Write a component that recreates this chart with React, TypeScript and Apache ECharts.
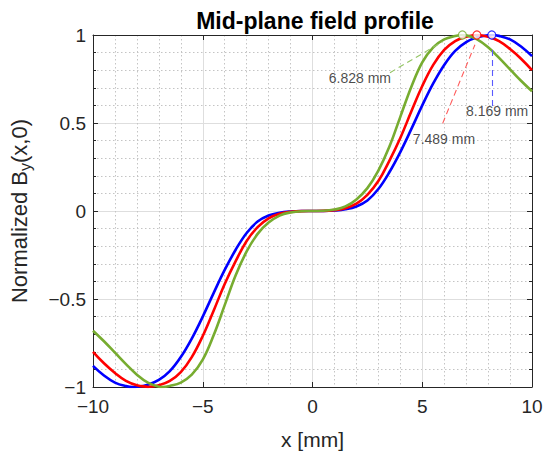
import React, { useEffect, useRef } from "react";
import * as echarts from "echarts";

const xMm = [
  -10, -9.5, -9, -8.5, -8, -7.5, -7, -6.5, -6, -5.5, -5, -4.5, -4, -3.5, -3, -2.5, -2, -1.5, -1, -0.5,
  0, 0.5, 1, 1.5, 2, 2.5, 3, 3.5, 4, 4.5, 5, 5.5, 6, 6.5, 7, 7.5, 8, 8.5, 9, 9.5, 10,
];

const blueValues = [
  -0.88, -0.935, -0.975, -0.995, -0.999, -0.987, -0.96, -0.91, -0.83, -0.725, -0.6, -0.465, -0.335, -0.22, -0.125, -0.06, -0.026, -0.01, -0.003, -0.0003,
  0, 0.0003, 0.003, 0.01, 0.026, 0.06, 0.125, 0.22, 0.335, 0.465, 0.6, 0.725, 0.83, 0.91, 0.96, 0.987, 0.999, 0.995, 0.975, 0.935, 0.88,
];

const redValues = [
  -0.8, -0.865, -0.92, -0.965, -0.99, -0.9995, -0.99, -0.965, -0.915, -0.83, -0.71, -0.565, -0.415, -0.285, -0.17, -0.092, -0.042, -0.016, -0.005, -0.0005,
  0, 0.0005, 0.005, 0.016, 0.042, 0.092, 0.17, 0.285, 0.415, 0.565, 0.71, 0.83, 0.915, 0.965, 0.99, 0.9995, 0.99, 0.965, 0.92, 0.865, 0.8,
];

const greenValues = [
  -0.68, -0.74, -0.805, -0.87, -0.93, -0.975, -0.998, -0.994, -0.975, -0.93, -0.845, -0.705, -0.535, -0.365, -0.23, -0.13, -0.066, -0.026, -0.008, -0.001,
  0, 0.001, 0.008, 0.026, 0.066, 0.13, 0.23, 0.365, 0.535, 0.705, 0.845, 0.93, 0.975, 0.994, 0.998, 0.975, 0.93, 0.87, 0.805, 0.74, 0.68,
];

const peakX = { green: 6.828, red: 7.489, blue: 8.169 };
const peakLabels = { green: "6.828 mm", red: "7.489 mm", blue: "8.169 mm" };

const xTicks = [-10, -5, 0, 5, 10];
const yTicks = [-1, -0.5, 0, 0.5, 1];

const BLUE = "#0000ff";
const RED = "#ff0000";
const GREEN = "#77ac30";
const FONT = "'Liberation Sans', Arial, Helvetica, sans-serif";
const INK = "#262626";

function withPeak(values: number[], px: number) {
  const pts = xMm.map((x, i) => [x, values[i]]);
  pts.push([px, 1]);
  pts.push([-px, -1]);
  pts.sort((a, b) => a[0] - b[0]);
  return pts;
}

const fmt = (v: number) => String(v).replace("-", "\u2212");

export default function App() {
  const ref = useRef<HTMLDivElement>(null);
  useEffect(() => {
    if (!ref.current) return;
    const chart = echarts.init(ref.current, undefined, { renderer: "svg" });
    const lineSeries = (name: string, color: string, values: number[], px: number) => ({
      name,
      type: "line",
      data: withPeak(values, px),
      smooth: 0.4,
      showSymbol: false,
      symbol: "none",
      lineStyle: { color, width: 2.6 },
      z: 3,
    });
    const arrow = (color: string, from: number[], to: number[]) => ({
      type: "line",
      data: [],
      silent: true,
      markLine: {
        silent: true,
        animation: false,
        symbol: ["none", "arrow"],
        symbolSize: [0, 9],
        label: { show: false },
        lineStyle: { color, type: [6, 4], width: 1.1 },
        data: [[{ coord: from }, { coord: to }]],
      },
    });
    const textPoint = (x: number, y: number, text: string) => ({
      type: "scatter",
      data: [[x, y]],
      symbolSize: 0,
      silent: true,
      label: {
        show: true,
        position: "inside",
        formatter: text,
        color: "#1a1a1a",
        fontSize: 14,
        fontFamily: FONT,
      },
      z: 6,
    });
    const peakMarker = (color: string, px: number) => ({
      type: "scatter",
      data: [[px, 1]],
      symbol: "circle",
      symbolSize: 8,
      clip: false,
      itemStyle: { color: "#ffffff", borderColor: color, borderWidth: 1.2 },
      z: 7,
    });
    const baseAxis = {
      min: -10,
      max: 10,
      interval: 5,
    };
    chart.setOption({
      animation: false,
      backgroundColor: "#ffffff",
      title: {
        text: "Mid-plane field profile",
        left: 310,
        top: 4,
        textAlign: "center",
        textStyle: { fontSize: 23, fontWeight: "bold", fontFamily: FONT, color: "#000" },
      },
      grid: { left: 88, right: 18, top: 35, bottom: 74, containLabel: false },
      xAxis: [
        {
          ...baseAxis,
          type: "value",
          position: "bottom",
          name: "x [mm]",
          nameLocation: "middle",
          nameGap: 42,
          nameTextStyle: { fontSize: 21, fontFamily: FONT, color: INK },
          axisLine: { show: true, onZero: false, lineStyle: { color: INK, width: 1 } },
          axisTick: { show: true, inside: true, length: 5, lineStyle: { color: INK } },
          minorTick: { show: false, splitNumber: 5 },
          axisLabel: {
            fontSize: 19,
            fontFamily: FONT,
            color: INK,
            margin: 10,
            customValues: xTicks,
            formatter: (v: number) => fmt(v),
          },
          splitLine: { show: true, lineStyle: { color: "#dedede", width: 1 } },
          minorSplitLine: { show: true, lineStyle: { color: "#c4c4c4", type: [1.5, 2.5], width: 1 } },
        },
        {
          ...baseAxis,
          type: "value",
          position: "top",
          axisLine: { show: true, onZero: false, lineStyle: { color: INK, width: 1 } },
          axisTick: { show: true, inside: true, length: 5, lineStyle: { color: INK } },
          axisLabel: { show: false },
          splitLine: { show: false },
        },
      ],
      yAxis: [
        {
          type: "value",
          min: -1,
          max: 1,
          interval: 0.5,
          position: "left",
          name: "Normalized B{sub|y}(x,0)",
          nameLocation: "middle",
          nameGap: 60,
          nameTextStyle: {
            fontSize: 22,
            fontFamily: FONT,
            color: INK,
            rich: {
              sub: { fontSize: 16, fontFamily: FONT, color: INK, verticalAlign: "bottom", padding: [12, 0, 0, 0] },
            },
          },
          axisLine: { show: true, onZero: false, lineStyle: { color: INK, width: 1 } },
          axisTick: { show: true, inside: true, length: 5, lineStyle: { color: INK } },
          minorTick: { show: true, splitNumber: 5, length: 3, lineStyle: { color: INK } },
          axisLabel: {
            fontSize: 19,
            fontFamily: FONT,
            color: INK,
            margin: 7,
            customValues: yTicks,
            formatter: (v: number) => fmt(v),
          },
          splitLine: { show: true, lineStyle: { color: "#dedede", width: 1 } },
          minorSplitLine: { show: true, lineStyle: { color: "#c4c4c4", type: [1.5, 2.5], width: 1 } },
        },
        {
          type: "value",
          min: -1,
          max: 1,
          interval: 0.5,
          position: "right",
          axisLine: { show: true, onZero: false, lineStyle: { color: INK, width: 1 } },
          axisTick: { show: true, inside: true, length: 5, lineStyle: { color: INK } },
          minorTick: { show: true, splitNumber: 5, length: 3, lineStyle: { color: INK } },
          axisLabel: { show: false },
          splitLine: { show: false },
        },
      ],
      series: [
        lineSeries("blue", BLUE, blueValues, peakX.blue),
        lineSeries("red", RED, redValues, peakX.red),
        lineSeries("green", GREEN, greenValues, peakX.green),
        arrow("#93c463", [3.53, 0.786], [5.93, 0.962]),
        arrow("#ff5a5a", [5.93, 0.498], [7.4, 0.945]),
        arrow("#5a5aff", [8.19, 0.597], [8.19, 0.938]),
        textPoint(2.16, 0.755, peakLabels.green),
        textPoint(5.99, 0.407, peakLabels.red),
        textPoint(8.41, 0.57, peakLabels.blue),
        peakMarker(GREEN, peakX.green),
        peakMarker(RED, peakX.red),
        peakMarker(BLUE, peakX.blue),
      ],
    });
    return () => chart.dispose();
  }, []);
  return (
    <div
      ref={ref}
      style={{ position: "fixed", left: 0, top: 0, width: 550, height: 461, background: "#fff" }}
    />
  );
}
